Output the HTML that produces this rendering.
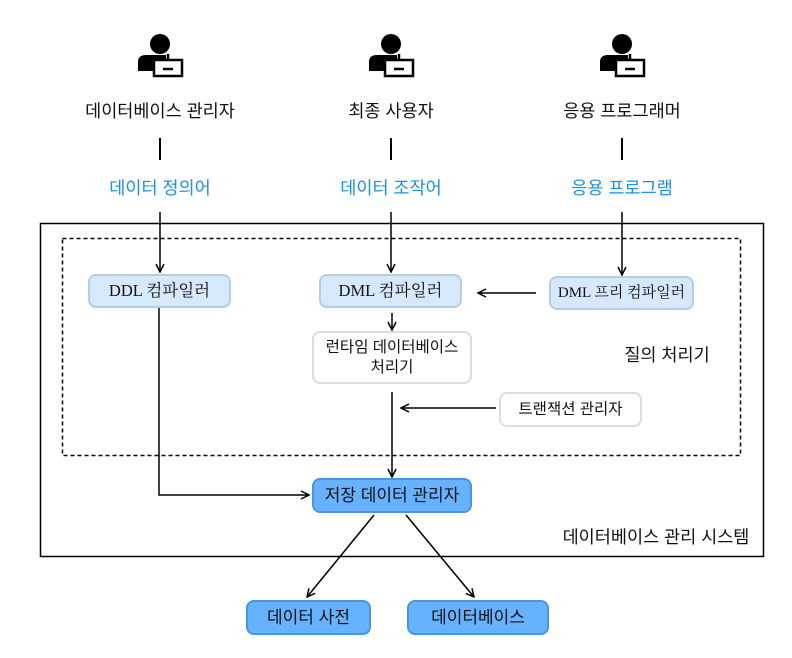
<!DOCTYPE html>
<html><head><meta charset="utf-8"><style>
body{margin:0;background:#fff;width:792px;height:658px;overflow:hidden;font-family:"Liberation Sans","Noto Sans CJK KR",sans-serif}
.t{position:absolute;font-size:17.5px;color:#111;text-align:center;white-space:nowrap}
.b{color:#1a8fe8}
.box{position:absolute;box-sizing:border-box;border-radius:8px;display:flex;align-items:center;justify-content:center;text-align:center;font-size:15.5px;color:#111;line-height:20px}
.lb{background:#d6e8fc;border:2px solid #b3cde6}
.wb{background:#fff;border:2px solid #ddd}
.db{background:#66b2ff;border:2px solid #4a94e0;font-size:17px}
.serif{font-family:"Liberation Serif","Noto Serif CJK SC",serif;font-size:16.5px}
</style></head><body>
<svg width="792" height="658" style="position:absolute;left:0;top:0">
<defs>
<g id="ic">
<circle cx="0" cy="-2" r="10" fill="#000"/>
<path d="M-22 25 V16 Q-22 9 -14 9 H6 V25 Z" fill="#000"/>
<rect x="-6" y="14" width="28" height="16" fill="#fff" stroke="#000" stroke-width="2.5"/>
<line x1="8" y1="8" x2="8" y2="14" stroke="#000" stroke-width="2.5"/>
<line x1="3" y1="23" x2="13" y2="23" stroke="#000" stroke-width="2.5"/>
</g>
<marker id="a" markerWidth="10" markerHeight="10" refX="9" refY="5" orient="auto" markerUnits="userSpaceOnUse"><path d="M1 1 L9 5 L1 9" fill="none" stroke="#000" stroke-width="1.5"/></marker>
</defs>
<use href="#ic" x="160" y="46"/>
<use href="#ic" x="391" y="46"/>
<use href="#ic" x="622" y="46"/>
<g stroke="#000" stroke-width="2"><line x1="160" y1="138" x2="160" y2="160"/><line x1="391" y1="138" x2="391" y2="160"/><line x1="622" y1="138" x2="622" y2="160"/></g>
<rect x="40.5" y="223.5" width="723" height="333" fill="none" stroke="#000" stroke-width="1.5"/>
<rect x="62.5" y="238.5" width="678" height="217" fill="none" stroke="#000" stroke-width="1.5" stroke-dasharray="4,3"/>
<g stroke="#000" stroke-width="1.5" fill="none" marker-end="url(#a)">
<line x1="160" y1="212" x2="160" y2="272"/>
<line x1="391" y1="212" x2="391" y2="272"/>
<line x1="622" y1="212" x2="622" y2="275"/>
<line x1="536" y1="293" x2="478" y2="293"/>
<line x1="392" y1="313" x2="392" y2="330"/>
<line x1="392" y1="392" x2="392" y2="477"/>
<line x1="496" y1="408" x2="401" y2="408"/>
<polyline points="159,307 159,495 309,495"/>
<line x1="374" y1="515" x2="307" y2="597"/>
<line x1="406" y1="515" x2="474" y2="597"/>
</g>
</svg>
<div class="t" style="left:60px;top:98px;width:200px">데이터베이스 관리자</div>
<div class="t" style="left:291px;top:98px;width:200px">최종 사용자</div>
<div class="t" style="left:522px;top:98px;width:200px">응용 프로그래머</div>
<div class="t b" style="left:60px;top:175px;width:200px">데이터 정의어</div>
<div class="t b" style="left:291px;top:175px;width:200px">데이터 조작어</div>
<div class="t b" style="left:522px;top:175px;width:200px">응용 프로그램</div>
<div class="box lb serif" style="left:88px;top:274px;width:143px;height:34px">DDL 컴파일러</div>
<div class="box lb serif" style="left:319px;top:274px;width:143px;height:34px">DML 컴파일러</div>
<div class="box lb serif" style="left:549px;top:276px;width:145px;height:34px;font-size:15px">DML 프리 컴파일러</div>
<div class="box wb" style="left:312px;top:331px;width:160px;height:53px">런타임 데이터베이스<br>처리기</div>
<div class="box wb" style="left:499px;top:392px;width:143px;height:35px">트랜잭션 관리자</div>
<div class="box db" style="left:312px;top:478px;width:160px;height:35px">저장 데이터 관리자</div>
<div class="box db" style="left:246px;top:600px;width:125px;height:35px">데이터 사전</div>
<div class="box db" style="left:407px;top:600px;width:142px;height:35px">데이터베이스</div>
<div class="t" style="left:614px;top:342px;width:106px">질의 처리기</div>
<div class="t" style="left:556px;top:524px;width:200px">데이터베이스 관리 시스템</div>
</body></html>
